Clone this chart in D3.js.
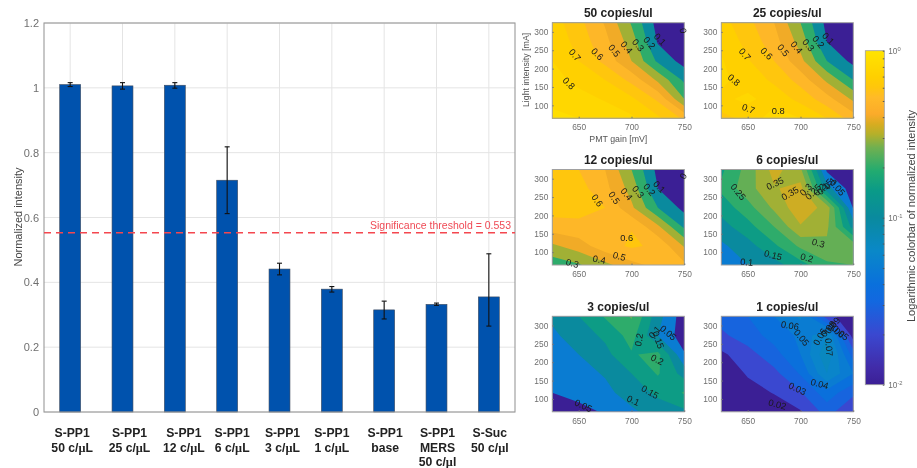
<!DOCTYPE html>
<html lang="en">
<head>
<meta charset="UTF-8">
<title>Normalized intensity and contour maps</title>
<script src="https://d3js.org/d3.v7.min.js"></script>
<style>
  html, body { margin: 0; padding: 0; background: #fff; }
  svg { display: block; filter: blur(0.35px); }
  text { font-family: "Liberation Sans", Arial, sans-serif; }
</style>
</head>
<body>
<svg id="chart" width="917" height="468"></svg>
<script>
// bar chart data
const categories = [
  ["S-PP1", "50 c/µL"], ["S-PP1", "25 c/µL"], ["S-PP1", "12 c/µL"],
  ["S-PP1", "6 c/µL"], ["S-PP1", "3 c/µL"], ["S-PP1", "1 c/µL"],
  ["S-PP1", "base"], ["S-PP1", "MERS", "50 c/µl"], ["S-Suc", "50 c/µl"]
];
const meanValues = [1.01, 1.006, 1.008, 0.715, 0.441, 0.379, 0.315, 0.332, 0.355];
const errLow = [1.004, 0.996, 0.999, 0.612, 0.423, 0.370, 0.287, 0.329, 0.265];
const errHigh = [1.016, 1.016, 1.016, 0.818, 0.459, 0.387, 0.342, 0.336, 0.488];
const barTicks = [0, 0.2, 0.4, 0.6, 0.8, 1, 1.2];
const threshold = 0.553;

// contour grids, rows run from light 325 down to light 65, columns are PMT 625..750
const pmtGain = [625, 650, 675, 700, 725, 750];
const lightIntensity = [325, 273, 221, 169, 117, 65];
const grid50 = [
  [.75, .63, .49, .29, .06, 0],
  [.78, .66, .53, .35, .09, .01],
  [.80, .70, .57, .40, .18, .06],
  [.84, .77, .70, .57, .38, .18],
  [.88, .84, .79, .72, .58, .30],
  [.92, .90, .87, .82, .72, .58]
];
const grid25 = [
  [.74, .63, .50, .30, .07, 0],
  [.77, .67, .54, .36, .10, .01],
  [.81, .71, .60, .43, .20, .07],
  [.82, .76, .68, .56, .38, .20],
  [.78, .82, .76, .67, .54, .38],
  [.66, .74, .85, .80, .70, .55]
];
const grid12 = [
  [.66, .60, .50, .30, .07, 0],
  [.68, .64, .53, .36, .10, .01],
  [.65, .64, .60, .42, .20, .07],
  [.55, .57, .595, .595, .42, .18],
  [.38, .45, .56, .615, .58, .39],
  [.24, .29, .37, .47, .53, .52]
];
const grid6 = [
  [.19, .27, .37, .31, .04, .01],
  [.21, .28, .345, .37, .12, .02],
  [.17, .23, .31, .385, .33, .045],
  [.13, .18, .25, .345, .31, .13],
  [.09, .13, .19, .26, .29, .28],
  [.06, .10, .13, .18, .24, .25]
];
const grid3 = [
  [.11, .15, .205, .255, .12, .02],
  [.09, .125, .16, .22, .10, .02],
  [.07, .10, .135, .195, .215, .055],
  [.06, .08, .105, .15, .205, .13],
  [.05, .065, .085, .125, .16, .205],
  [.025, .035, .055, .09, .125, .14]
];
const grid1 = [
  [.034, .04, .05, .062, .024, .012],
  [.028, .035, .044, .052, .07, .015],
  [.018, .026, .036, .05, .078, .035],
  [.013, .021, .027, .041, .07, .05],
  [.011, .016, .0205, .029, .046, .032],
  [.01, .012, .014, .019, .034, .021]
];

// contour levels of each panel
const levels50 = [0, .1, .2, .3, .4, .5, .6, .7, .8, .9];
const levels12 = [0, .1, .2, .3, .4, .5, .6, .7];
const levels6 = [0, .05, .1, .15, .2, .25, .3, .35, .4];
const levels3 = [0, .05, .1, .15, .2, .25, .3];
const levels1 = [0, .02, .03, .04, .05, .06, .07, .08, .09, .1];

// contour labels: pmt, light, text, rotation
const labels50 = [
  [646.5, 237, "0.7", 50], [667.6, 240, "0.6", 45], [683.7, 249, "0.5", 50], [695.4, 258, "0.4", 50],
  [706.4, 264, "0.3", 50], [716.9, 270, "0.2", 50], [727, 280, "0.1", 45], [749, 303, "0", 80], [640.8, 160, "0.8", 45]
];
const labels25 = [
  [647.4, 239, "0.7", 50], [668, 241, "0.6", 45], [683.7, 250, "0.5", 50], [696.3, 258, "0.4", 50],
  [707.4, 264, "0.3", 50], [716.9, 273, "0.2", 50], [726.3, 282, "0.1", 45], [637, 169, "0.8", 40],
  [650.6, 91, "0.7", 20], [679, 84, "0.8", 0]
];
const labels12 = [
  [667.6, 241, "0.6", 55], [683.7, 248, "0.5", 55], [695.4, 258, "0.4", 50], [706.4, 264, "0.3", 50],
  [716.9, 270, "0.2", 50], [726.3, 278, "0.1", 45], [749, 307, "0", -60], [695.4, 140, "0.6", 0],
  [688.4, 89, "0.5", 15], [669.5, 80, "0.4", 10], [644, 70, "0.3", 15]
];
const labels6 = [
  [641, 264, "0.25", 50], [675.8, 287, "0.35", -25], [690, 260, "0.35", -30], [705, 270, "0.3", -45],
  [712, 264, "0.25", -45], [718, 270, "0.2", -45], [723, 278, "0.15", -45], [728, 287, "0.1", -45],
  [735, 276, "0.05", 50], [717, 125, "0.3", 15], [674, 92, "0.15", 15], [706, 85, "0.2", 15], [649, 73, "0.1", 5]
];
const labels3 = [
  [707, 261, "0.2", -80], [724.4, 207, "0.2", 25], [717.5, 119, "0.15", 30], [701.7, 96, "0.1", 25],
  [654.4, 82, "0.05", 25], [725.4, 261, "0.15", 70], [722, 282, "0.1", -50], [734.8, 280, "0.05", 40]
];
const labels1 = [
  [690, 300, "0.06", 10], [701, 267, "0.05", 50], [718.4, 269, "0.06", -60], [727, 241, "0.07", 85],
  [718, 141, "0.04", 15], [697, 128, "0.03", 25], [678, 85, "0.02", 15], [726.4, 291, "0.08", -50],
  [730.4, 300, "0.09", -50], [738, 280, "0.05", 40], [734, 287, "0.06", 40]
];

const panelTitles = ["50 copies/ul", "25 copies/ul", "12 copies/ul", "6 copies/ul", "3 copies/ul", "1 copies/ul"];
const panelGrids = [grid50, grid25, grid12, grid6, grid3, grid1];
const panelLevels = [levels50, levels50, levels12, levels6, levels3, levels1];
const panelLabels = [labels50, labels25, labels12, labels6, labels3, labels1];

// log colormap sampled off the colorbar
const colorStops = [
  [0, "#3b1f95"], [.05, "#412ba8"], [.15, "#3a48d0"], [.25, "#1268e0"], [.30, "#0a70dc"],
  [.40, "#0a88c8"], [.50, "#0a8a9e"], [.58, "#0a9a88"], [.64, "#22ab70"], [.71, "#70b050"],
  [.75, "#b4b02a"], [.78, "#d8ac20"], [.81, "#fbab2a"], [.86, "#ffba28"], [.89, "#ffc60c"], [.92, "#ffcf00"], [1, "#ffe400"]
];
const ramp = d3.scaleLinear().domain(colorStops.map(d => d[0])).range(colorStops.map(d => d[1]));
const logPos = d3.scaleLog().domain([0.01, 1]).range([0, 1]).clamp(true);
const levelColor = v => ramp(logPos(Math.max(v, 0.01)));

const svg = d3.select("#chart");
const gray = "#6f6f6f";

// ========== BAR CHART ==========
const barLeft = 44, barRight = 515, barTop = 23, barBottom = 412;
const xBar = d3.scaleBand().domain(d3.range(categories.length)).range([barLeft, barRight]).paddingInner(0.6).paddingOuter(0.3);
const yBar = d3.scaleLinear().domain([0, 1.2]).range([barBottom, barTop]);
const barCenter = i => xBar(i) + xBar.bandwidth() / 2;

const barGrid = svg.append("g");
barGrid.selectAll("line.h").data(barTicks).join("line").attr("class", "h")
  .attr("x1", barLeft).attr("x2", barRight).attr("y1", d => yBar(d)).attr("y2", d => yBar(d))
  .attr("stroke", "#e4e4e4");
barGrid.selectAll("line.v").data(d3.range(categories.length)).join("line").attr("class", "v")
  .attr("x1", barCenter).attr("x2", barCenter).attr("y1", barTop).attr("y2", barBottom)
  .attr("stroke", "#e4e4e4");

svg.append("g").selectAll("rect").data(meanValues).join("rect")
  .attr("x", (d, i) => xBar(i))
  .attr("y", d => yBar(d))
  .attr("width", xBar.bandwidth())
  .attr("height", d => yBar(0) - yBar(d))
  .attr("fill", "#0052ad")
  .attr("stroke", "#3d4a5c")
  .attr("stroke-width", 0.6);

const errG = svg.append("g").attr("stroke", "#111").attr("stroke-width", 1.1);
meanValues.forEach((d, i) => {
  const cx = barCenter(i);
  errG.append("line").attr("x1", cx).attr("x2", cx).attr("y1", yBar(errLow[i])).attr("y2", yBar(errHigh[i]));
  errG.append("line").attr("x1", cx - 2.5).attr("x2", cx + 2.5).attr("y1", yBar(errLow[i])).attr("y2", yBar(errLow[i]));
  errG.append("line").attr("x1", cx - 2.5).attr("x2", cx + 2.5).attr("y1", yBar(errHigh[i])).attr("y2", yBar(errHigh[i]));
});

svg.append("rect").attr("x", barLeft).attr("y", barTop).attr("width", barRight - barLeft).attr("height", barBottom - barTop)
  .attr("fill", "none").attr("stroke", "#9a9a9a").attr("stroke-width", 1.1);

const barAxis = svg.append("g").attr("transform", `translate(${barLeft},0)`)
  .call(d3.axisLeft(yBar).tickValues(barTicks).tickFormat(d3.format("~g")).tickSize(0).tickPadding(5));
barAxis.select(".domain").remove();
barAxis.selectAll("text").attr("fill", gray).style("font-size", "11px").style("font-family", "Liberation Sans");

svg.append("text").attr("transform", `translate(21.5,217) rotate(-90)`).attr("text-anchor", "middle")
  .attr("fill", "#444").style("font-size", "11px").text("Normalized intensity");

// threshold line and label
svg.append("line").attr("x1", barLeft).attr("x2", barRight).attr("y1", yBar(threshold)).attr("y2", yBar(threshold))
  .attr("stroke", "#f4474f").attr("stroke-width", 1.5).attr("stroke-dasharray", "7,5");
svg.append("text").attr("x", 511).attr("y", 229).attr("text-anchor", "end")
  .attr("fill", "#ef4a55").style("font-size", "10.5px").text("Significance threshold  = " + threshold);

// category labels are hand placed in the original, not centred on the bars
const labelShift = [2, 7, 9, 5, 3, 0, 1, 1, 1];
categories.forEach((lines, i) => {
  lines.forEach((line, j) => {
    const t = svg.append("text").attr("x", barCenter(i) + labelShift[i]).attr("y", 437 + j * 14.7)
      .attr("text-anchor", "middle").attr("fill", "#222")
      .style("font-size", "12.2px").style("font-weight", "bold");
    const parts = line.split("µ");
    t.append("tspan").text(parts[0]);
    if (parts.length > 1) {
      t.append("tspan").style("font-family", "Liberation Serif").text("µ");
      t.append("tspan").text(parts[1]);
    }
  });
});

// ========== CONTOUR PANELS ==========
const panelW = 132, panelH = 95.5;
const panelX = [552.3, 721.3];
const panelY = [22.7, 169.5, 316.3];
const defs = svg.append("defs");

panelTitles.forEach((title, idx) => {
  const col = idx % 2, row = Math.floor(idx / 2);
  const g = svg.append("g").attr("transform", `translate(${panelX[col]},${panelY[row]})`);
  const x = d3.scaleLinear().domain([625, 750]).range([0, panelW]);
  const y = d3.scaleLinear().domain([65, 325]).range([panelH, 0]);
  // d3.contours puts grid value i at i + 0.5
  const gridX = d3.scaleLinear().domain([0.5, pmtGain.length - 0.5]).range([pmtGain[0], pmtGain[pmtGain.length - 1]]);
  const gridY = d3.scaleLinear().domain([0.5, lightIntensity.length - 0.5]).range([lightIntensity[0], lightIntensity[lightIntensity.length - 1]]);
  const path = d3.geoPath(d3.geoTransform({
    point(px, py) { this.stream.point(x(gridX(px)), y(gridY(py))); }
  }));

  defs.append("clipPath").attr("id", "clip" + idx).append("rect").attr("width", panelW).attr("height", panelH);

  const bands = d3.contours().size([pmtGain.length, lightIntensity.length])
    .thresholds(panelLevels[idx])(panelGrids[idx].flat());
  g.append("g").attr("clip-path", `url(#clip${idx})`)
    .selectAll("path").data(bands).join("path")
    .attr("d", path)
    .attr("fill", d => levelColor(d.value));

  g.append("rect").attr("width", panelW).attr("height", panelH)
    .attr("fill", "none").attr("stroke", "#a0a0a0");

  const xAxis = g.append("g").attr("transform", `translate(0,${panelH})`)
    .call(d3.axisBottom(x).tickValues([650, 700, 750]).tickSizeInner(-1.5).tickSizeOuter(0).tickPadding(6));
  const yAxis = g.append("g")
    .call(d3.axisLeft(y).tickValues([100, 150, 200, 250, 300]).tickSizeInner(-1.5).tickSizeOuter(0).tickPadding(4));
  [xAxis, yAxis].forEach(a => {
    a.select(".domain").remove();
    a.selectAll("line").attr("stroke", "#777");
    a.selectAll("text").attr("fill", gray).style("font-size", "8.4px").style("font-family", "Liberation Sans");
  });

  g.selectAll("text.clabel").data(panelLabels[idx]).join("text").attr("class", "clabel")
    .attr("transform", d => `translate(${x(d[0])},${y(d[1])}) rotate(${d[3]})`)
    .attr("text-anchor", "middle").attr("dy", "0.35em")
    .attr("fill", "#1a1a1a").style("font-size", "9.3px").text(d => d[2]);

  g.append("text").attr("x", panelW / 2).attr("y", -5.5).attr("text-anchor", "middle")
    .attr("fill", "#222").style("font-size", "12px").style("font-weight", "bold").text(title);

  if (idx === 0) {
    g.append("text").attr("x", panelW / 2).attr("y", panelH + 23.5).attr("text-anchor", "middle")
      .attr("fill", "#555").style("font-size", "8.8px").text("PMT gain [mV]");
    g.append("text").attr("transform", `translate(-23,${panelH / 2 - 0.5}) rotate(-90)`).attr("text-anchor", "middle")
      .attr("fill", "#555").style("font-size", "8.8px").text("Light intensity [mA]");
  }
});

// ========== COLORBAR ==========
const cbX = 865.3, cbW = 19, cbTop = 50.7, cbBottom = 384.7;
const gradient = defs.append("linearGradient").attr("id", "cbGrad").attr("x1", 0).attr("x2", 0).attr("y1", 1).attr("y2", 0);
gradient.selectAll("stop").data(colorStops).join("stop")
  .attr("offset", d => d[0]).attr("stop-color", d => d[1]);
svg.append("rect").attr("x", cbX).attr("y", cbTop).attr("width", cbW).attr("height", cbBottom - cbTop)
  .attr("fill", "url(#cbGrad)").attr("stroke", "#a0a0a0").attr("stroke-width", 0.8);

const yColor = d3.scaleLog().domain([0.01, 1]).range([cbBottom, cbTop]);
const cbAxis = svg.append("g").attr("transform", `translate(${cbX + cbW},0)`)
  .call(d3.axisLeft(yColor).tickSize(1.5).tickFormat(""));
cbAxis.select(".domain").remove();
cbAxis.selectAll("line").attr("stroke", "#555");

const colorbarTicks = [[1, "0"], [0.1, "-1"], [0.01, "-2"]];
colorbarTicks.forEach(([v, exp]) => {
  const t = svg.append("text").attr("x", cbX + cbW + 4).attr("y", yColor(v) + 3.5)
    .attr("fill", gray).style("font-size", "8.2px");
  t.append("tspan").text("10");
  t.append("tspan").attr("dy", -3).style("font-size", "5.8px").text(exp);
});

svg.append("text").attr("transform", "translate(915,216) rotate(-90)").attr("text-anchor", "middle")
  .attr("fill", "#444").style("font-size", "11px").text("Logarithmic colorbar of normalized intensity");
</script>
</body>
</html>
